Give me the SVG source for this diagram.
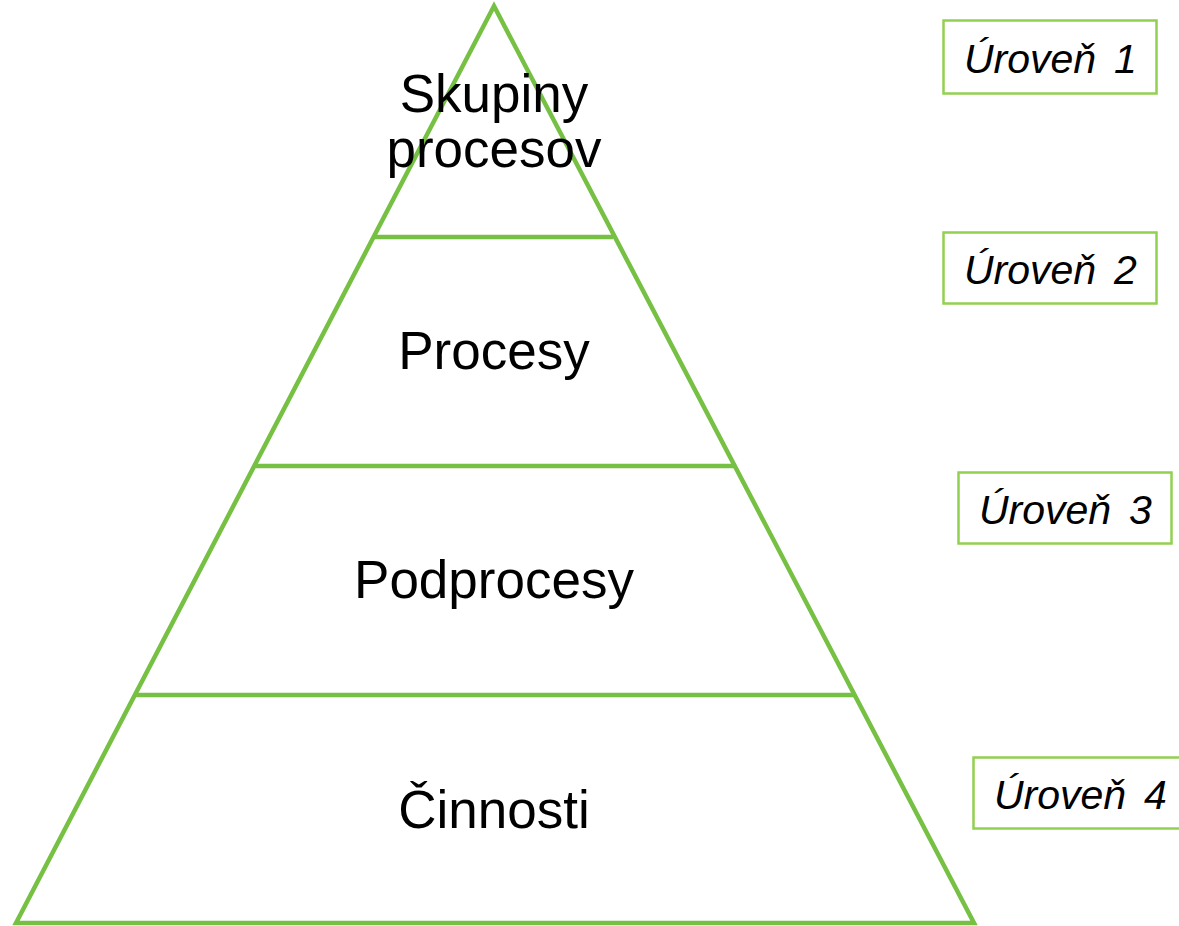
<svg xmlns="http://www.w3.org/2000/svg" width="1179" height="926" viewBox="0 0 1179 926">
<style>
.tri{fill:none;stroke:#76c043;stroke-width:4.5;stroke-linejoin:miter}
.ln{stroke:#76c043;stroke-width:4.5}
.box{fill:#fff;stroke:#92d050;stroke-width:2.5}
.main{font-family:"Liberation Sans",Arial,sans-serif;font-size:53px;fill:#000;text-anchor:middle}
.lvl{font-family:"Liberation Sans",Arial,sans-serif;font-size:41px;font-style:italic;fill:#000}
</style>
<rect width="1179" height="926" fill="#fff"/>
<g id="pyramid">
<polygon class="tri" points="494,6 974,923 16,923"/>
</g>
<g id="connectors">
<line class="ln" x1="374" y1="237" x2="613" y2="237"/>
<line class="ln" x1="254" y1="466" x2="734" y2="466"/>
<line class="ln" x1="134" y1="695" x2="854" y2="695"/>
</g>
<g id="n1"><text class="main" x="494" y="112">Skupiny</text><text class="main" x="494" y="167">procesov</text></g>
<g id="n2"><text class="main" x="494" y="369">Procesy</text></g>
<g id="n3"><text class="main" x="494" y="598">Podprocesy</text></g>
<g id="n4"><text class="main" x="494" y="828">Činnosti</text></g>
<g id="l1"><rect class="box" x="943.5" y="20.5" width="213" height="73"/><text class="lvl" x="964" y="73">Úroveň <tspan x="1114">1</tspan></text></g>
<g id="l2"><rect class="box" x="943.5" y="232.5" width="213" height="71"/><text class="lvl" x="964" y="284">Úroveň <tspan x="1114">2</tspan></text></g>
<g id="l3"><rect class="box" x="958.5" y="472.5" width="213" height="71"/><text class="lvl" x="979" y="524">Úroveň <tspan x="1129">3</tspan></text></g>
<g id="l4"><rect class="box" x="973.5" y="757.5" width="213" height="71"/><text class="lvl" x="994" y="809">Úroveň <tspan x="1144">4</tspan></text></g>
</svg>
